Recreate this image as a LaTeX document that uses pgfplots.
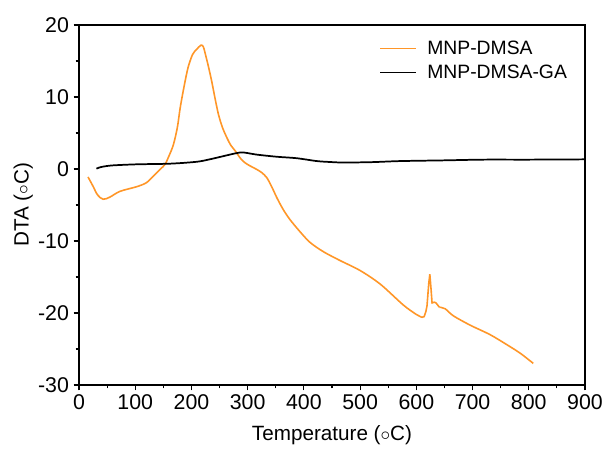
\documentclass[border=0pt]{standalone}
\usepackage{pgfplots}
\pgfplotsset{compat=1.18}
\usepackage{fontspec}
\setmainfont{Liberation Sans}
\definecolor{dmsa}{RGB}{255,150,40}
\begin{document}
\begin{tikzpicture}
\begin{axis}[
    scale only axis,
    width=379.5pt, height=270pt,
    xmin=0, xmax=900, ymin=-30, ymax=20,
    xtick={0,100,...,900}, ytick={-30,-20,...,20},
    minor x tick num=1, minor y tick num=1,
    tick pos=left, tick align=outside,
    major tick length=4pt, minor tick length=2.5pt,
    axis line style={line width=0.9pt},
    every tick/.style={line width=0.8pt, black},
    /pgf/number format/assume math mode=true,
    ticklabel style={font=\fontsize{16}{18}\selectfont},
    label style={font=\fontsize{15.5}{18}\selectfont},
    xlabel={Temperature ($\circ$C)},
    ylabel={DTA ($\circ$C)},
    xlabel style={yshift=-5pt},
    ylabel style={yshift=-3pt},
    legend style={draw=none, fill=none, at={(0.585,0.972)}, anchor=north west,
        font=\fontsize{14.5}{17}\selectfont, row sep=2.4pt},
    legend cell align=left,
    legend image code/.code={\draw[#1] (0cm,0cm) -- (0.95cm,0cm); \path (1.15cm,0cm);},
]
\addplot[color=dmsa, line width=1.2pt, smooth, tension=0.5] coordinates {
(16,-1.1)(25,-2.4)(33,-3.6)(43,-4.2)(55,-3.9)(73,-3.1)(103,-2.45)(120,-1.9)
(132,-1.0)(145,0)(153,0.65)(160,1.8)(168,3.4)(175,5.8)(180,8.5)(187,11.5)
(194,14.1)(202,15.9)(209,16.6)(217,17.2)(221,17.0)(224,16.2)(230,14.3)
(236,12.2)(242,9.8)(248,7.6)(255,5.8)(263,4.35)(270,3.3)(278,2.5)(287,1.5)
(295,0.88)(305,0.4)(316,-0.05)(325,-0.5)(334,-1.2)(343,-2.5)(352,-4.0)
(363,-5.6)(375,-7.0)(393,-8.7)(411,-10.2)(435,-11.5)(464,-12.7)(500,-14.1)
(536,-16.0)(577,-18.9)(600,-20.2)(610,-20.6)
};
\addlegendentry{MNP-DMSA}
\addplot[color=dmsa, line width=1.2pt, forget plot] coordinates {
(610,-20.6)(614,-20.5)(617,-19.8)(619,-19.0)(622,-16.0)(624,-14.6)(626,-16.5)
(628,-18.6)(632,-18.5)(635,-18.6)(641,-19.2)
};
\addplot[color=dmsa, line width=1.2pt, smooth, tension=0.5, forget plot] coordinates {
(641,-19.2)(651,-19.4)(666,-20.4)(696,-21.7)(731,-23.0)(761,-24.4)(785,-25.6)(808,-27.0)
};
\addplot[color=black, line width=1.3pt, smooth, tension=0.5] coordinates {
(31,0.05)(36,0.2)(43,0.33)(60,0.5)(103,0.65)(162,0.74)(209,1.0)(233,1.35)
(263,1.9)(280,2.2)(292,2.3)(316,2.0)(352,1.7)(387,1.5)(423,1.1)(447,0.97)
(470,0.9)(520,0.95)(571,1.1)(650,1.2)(719,1.3)(800,1.3)(900,1.34)
};
\addlegendentry{MNP-DMSA-GA}
\end{axis}
\pgfresetboundingbox
\path[use as bounding box] (-59.25pt,-51pt) rectangle (396.75pt,288.75pt);
\end{tikzpicture}
\end{document}
